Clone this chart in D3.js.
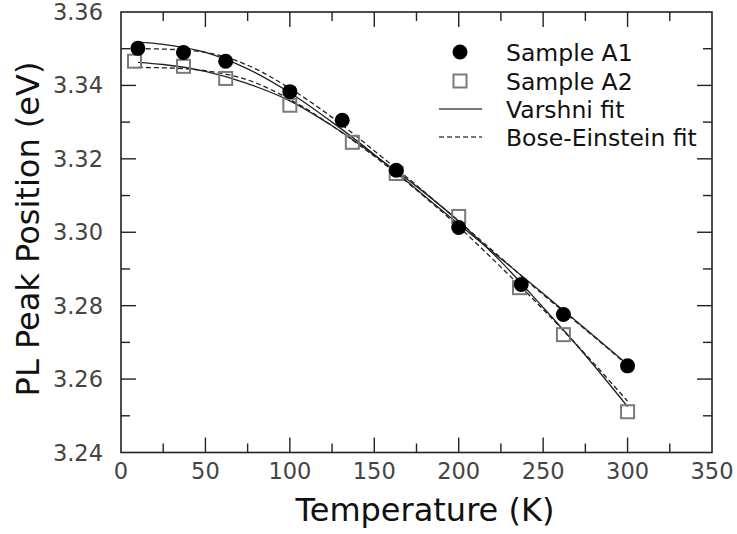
<!DOCTYPE html>
<html>
<head>
<meta charset="utf-8">
<script src="https://cdn.jsdelivr.net/npm/d3@7"></script>
<style>
  html, body { margin: 0; padding: 0; background: #fff; }
  svg { display: block; font-family: "DejaVu Sans", Verdana, sans-serif; }
</style>
</head>
<body>
<svg id="chart" width="737" height="534"></svg>
<script>
// ---------- data ----------
const tempA1 = [10, 37, 62, 100, 131, 163, 200, 237, 262, 300];
const peakA1 = [3.3501, 3.3490, 3.3466, 3.3383, 3.3305, 3.3169, 3.3013, 3.2858, 3.2776, 3.2636];

const tempA2 = [8, 37, 62, 100, 137, 163, 200, 236, 262, 300];
const peakA2 = [3.3466, 3.3452, 3.3419, 3.3346, 3.3245, 3.3160, 3.3043, 3.2849, 3.2721, 3.2511];

const fitTemp = [10, 25, 50, 75, 100, 125, 150, 175, 200, 225, 250, 275, 300];
const varshniA1 = [3.3518, 3.3512, 3.3490, 3.3445, 3.3380, 3.3300, 3.3212, 3.3117, 3.3022, 3.2928, 3.2833, 3.2737, 3.2640];
const varshniA2 = [3.3463, 3.3457, 3.3438, 3.3405, 3.3358, 3.3290, 3.3210, 3.3125, 3.3030, 3.2920, 3.2795, 3.2665, 3.2525];
const boseA1    = [3.3500, 3.3499, 3.3490, 3.3455, 3.3392, 3.3313, 3.3222, 3.3128, 3.3030, 3.2930, 3.2830, 3.2735, 3.2638];
const boseA2    = [3.3449, 3.3448, 3.3440, 3.3415, 3.3362, 3.3290, 3.3207, 3.3115, 3.3015, 3.2905, 3.2790, 3.2668, 3.2540];

const xTicks = [0, 50, 100, 150, 200, 250, 300, 350];
const yTicks = [3.24, 3.26, 3.28, 3.30, 3.32, 3.34, 3.36];
const legendLabels = ["Sample A1", "Sample A2", "Varshni fit", "Bose-Einstein fit"];

// ---------- layout ----------
const svg = d3.select("#chart");
const L = 121, R = 712, T = 12, B = 452.5;
const x = d3.scaleLinear().domain([0, 350]).range([L, R]);
const y = d3.scaleLinear().domain([3.24, 3.36]).range([B, T]);

const axisColor = "#222";
const labelColor = "#444";

// frame
svg.append("rect")
  .attr("x", L).attr("y", T).attr("width", R - L).attr("height", B - T)
  .attr("fill", "none").attr("stroke", axisColor).attr("stroke-width", 1.6);

const xMinor = d3.range(25, 350, 50);
const yMinor = d3.range(3.25, 3.36, 0.02);

const ticks = svg.append("g").attr("stroke", axisColor).attr("stroke-width", 1.4);
// x ticks (bottom & top, inward)
xTicks.slice(1, -1).forEach(v => {
  ticks.append("line").attr("x1", x(v)).attr("x2", x(v)).attr("y1", B).attr("y2", B - 15);
  ticks.append("line").attr("x1", x(v)).attr("x2", x(v)).attr("y1", T).attr("y2", T + 15);
});
xMinor.forEach(v => {
  ticks.append("line").attr("x1", x(v)).attr("x2", x(v)).attr("y1", B).attr("y2", B - 9);
  ticks.append("line").attr("x1", x(v)).attr("x2", x(v)).attr("y1", T).attr("y2", T + 9);
});
// y ticks (left & right, inward)
yTicks.slice(1, -1).forEach(v => {
  ticks.append("line").attr("y1", y(v)).attr("y2", y(v)).attr("x1", L).attr("x2", L + 15);
  ticks.append("line").attr("y1", y(v)).attr("y2", y(v)).attr("x1", R).attr("x2", R - 15);
});
yMinor.forEach(v => {
  ticks.append("line").attr("y1", y(v)).attr("y2", y(v)).attr("x1", L).attr("x2", L + 9);
  ticks.append("line").attr("y1", y(v)).attr("y2", y(v)).attr("x1", R).attr("x2", R - 9);
});

// tick labels
svg.append("g").selectAll("text").data(xTicks).join("text")
  .attr("x", d => x(d)).attr("y", 479)
  .attr("text-anchor", "middle")
  .attr("font-size", 22.5).attr("fill", labelColor)
  .text(d => d);
svg.append("g").selectAll("text").data(yTicks).join("text")
  .attr("x", 103).attr("y", d => y(d) + 8)
  .attr("text-anchor", "end")
  .attr("font-size", 22.5).attr("fill", labelColor)
  .text(d => d3.format(".2f")(d));

// axis titles
svg.append("text")
  .attr("x", 425).attr("y", 521)
  .attr("text-anchor", "middle").attr("font-size", 32).attr("fill", "#111")
  .text("Temperature (K)");
svg.append("text")
  .attr("transform", `translate(39, 229) rotate(-90)`)
  .attr("text-anchor", "middle").attr("font-size", 32).attr("fill", "#111")
  .text("PL Peak Position (eV)");

// ---------- fits ----------
const line = d3.line().x(d => x(d[0])).y(d => y(d[1])).curve(d3.curveMonotoneX);
const fitColor = "#222";
function drawFit(vals, dashed) {
  svg.append("path")
    .datum(fitTemp.map((t, i) => [t, vals[i]]))
    .attr("d", line)
    .attr("fill", "none")
    .attr("stroke", fitColor)
    .attr("stroke-width", 1.3)
    .attr("stroke-dasharray", dashed ? "5,3" : null);
}
drawFit(varshniA1, false);
drawFit(varshniA2, false);
drawFit(boseA1, true);
drawFit(boseA2, true);

// ---------- markers ----------
const sq = 13;
svg.append("g").selectAll("rect").data(tempA2.map((t, i) => [t, peakA2[i]])).join("rect")
  .attr("x", d => x(d[0]) - sq / 2).attr("y", d => y(d[1]) - sq / 2)
  .attr("width", sq).attr("height", sq)
  .attr("fill", "none").attr("stroke", "#7a7a7a").attr("stroke-width", 2);
svg.append("g").selectAll("circle").data(tempA1.map((t, i) => [t, peakA1[i]])).join("circle")
  .attr("cx", d => x(d[0])).attr("cy", d => y(d[1])).attr("r", 7.5)
  .attr("fill", "#000");

// ---------- legend ----------
const lg = svg.append("g");
const rowY = [52, 81, 109, 137];
const symX = 460, textX = 506;
lg.append("circle").attr("cx", symX).attr("cy", rowY[0]).attr("r", 7.5).attr("fill", "#000");
lg.append("rect").attr("x", symX - 6.5).attr("y", rowY[1] - 6.5).attr("width", 13).attr("height", 13)
  .attr("fill", "none").attr("stroke", "#7a7a7a").attr("stroke-width", 2);
lg.append("line").attr("x1", 439).attr("x2", 482).attr("y1", rowY[2]).attr("y2", rowY[2])
  .attr("stroke", "#777").attr("stroke-width", 2);
lg.append("line").attr("x1", 439).attr("x2", 482).attr("y1", rowY[3]).attr("y2", rowY[3])
  .attr("stroke", "#777").attr("stroke-width", 2).attr("stroke-dasharray", "5,3");
lg.selectAll("text.lab").data(legendLabels).join("text")
  .attr("class", "lab")
  .attr("x", textX).attr("y", (d, i) => rowY[i] + 8.5)
  .attr("font-size", 23.5).attr("fill", "#111")
  .text(d => d);
</script>
</body>
</html>
